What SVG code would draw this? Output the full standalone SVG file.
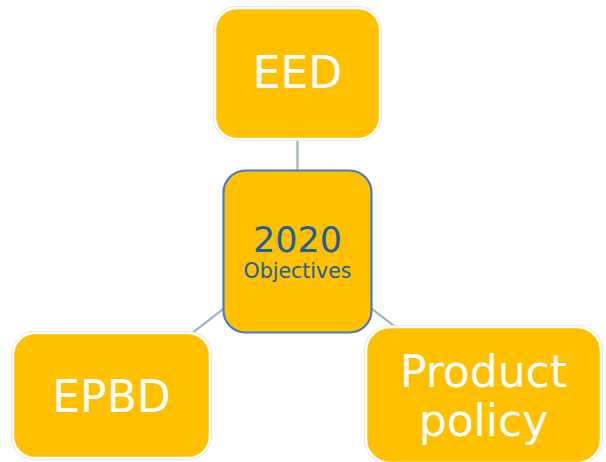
<svg xmlns="http://www.w3.org/2000/svg" width="606" height="462" viewBox="0 0 606 462">
<style>
.halo{fill:none;stroke:#e2e2e2;stroke-width:4}
.box{fill:#ffc000;stroke:#ffffff;stroke-width:2.5}
.core{fill:#ffc000;stroke:#4a78c8;stroke-width:2.2}
.lbl{font-family:"DejaVu Sans",Verdana,sans-serif;fill:#ffffff;font-size:44px;text-anchor:middle}
.blue{font-family:"DejaVu Sans",Verdana,sans-serif;fill:#1f5f9a;text-anchor:middle}
.conn{stroke:#9ab5b5;stroke-width:2.2;fill:none}
</style>
<rect width="606" height="462" fill="#ffffff"/>
<g id="connectors">
<line class="conn" x1="297.5" y1="251.5" x2="297.5" y2="73.5"/>
<line class="conn" x1="297.5" y1="251.5" x2="111.5" y2="395.5"/>
<line class="conn" x1="297.5" y1="251.5" x2="483.5" y2="395"/>
</g>
<g id="eed">
<rect class="halo" x="215" y="8" width="165" height="131" rx="22"/>
<rect class="box" x="215" y="8" width="165" height="131" rx="22"/>
<text class="lbl" x="297.5" y="88">EED</text>
</g>
<g id="epbd">
<rect class="halo" x="13" y="333" width="197" height="125" rx="22"/>
<rect class="box" x="13" y="333" width="197" height="125" rx="22"/>
<text class="lbl" x="111.5" y="412">EPBD</text>
</g>
<g id="product">
<rect class="halo" x="366" y="327" width="235" height="136" rx="24"/>
<rect class="box" x="366" y="327" width="235" height="136" rx="24"/>
<text class="lbl" x="483.5" y="387">Product</text>
<text class="lbl" x="483.5" y="436">policy</text>
</g>
<g id="objectives">
<rect class="core" x="223.5" y="170.5" width="148" height="162" rx="22"/>
<text class="blue" x="297.5" y="252" font-size="35">2020</text>
<text class="blue" x="297.5" y="278" font-size="20.5">Objectives</text>
</g>
</svg>
